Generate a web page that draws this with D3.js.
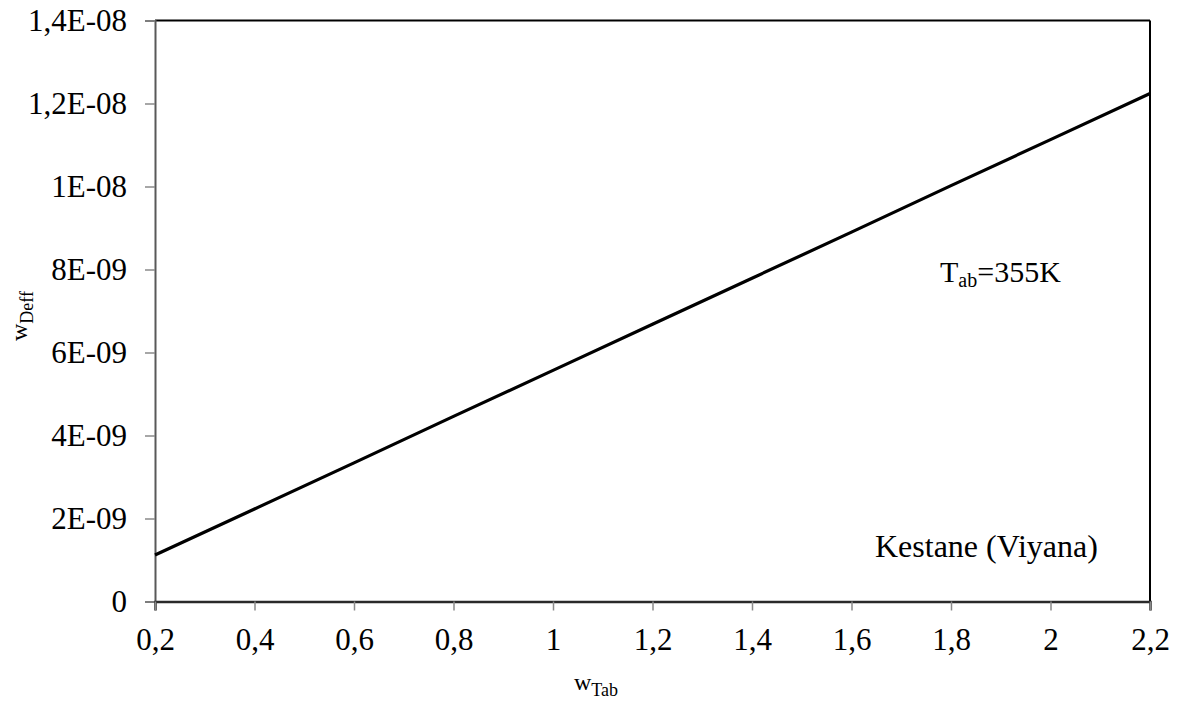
<!DOCTYPE html>
<html>
<head>
<meta charset="utf-8">
<script src="https://cdn.jsdelivr.net/npm/d3@7"></script>
<style>
  html, body { margin: 0; padding: 0; background: #fff; }
  svg text { font-family: "Liberation Serif", "Times New Roman", Tinos, "DejaVu Serif", serif !important; }
</style>
</head>
<body>
<svg id="chart" width="1190" height="705"></svg>
<script>
// w_Tab values (x) and effective diffusion coefficient w_Deff (y)
const wTab = [0.2, 0.4, 0.6, 0.8, 1.0, 1.2, 1.4, 1.6, 1.8, 2.0, 2.2];
const wDeff = [1.12e-9, 2.23e-9, 3.34e-9, 4.46e-9, 5.57e-9, 6.68e-9, 7.79e-9, 8.90e-9, 1.002e-8, 1.113e-8, 1.224e-8];

const xTicks = [0.2, 0.4, 0.6, 0.8, 1.0, 1.2, 1.4, 1.6, 1.8, 2.0, 2.2];
const xTickLabels = ["0,2", "0,4", "0,6", "0,8", "1", "1,2", "1,4", "1,6", "1,8", "2", "2,2"];
const yTicks = [0, 2e-9, 4e-9, 6e-9, 8e-9, 1e-8, 1.2e-8, 1.4e-8];
const yTickLabels = ["0", "2E-09", "4E-09", "6E-09", "8E-09", "1E-08", "1,2E-08", "1,4E-08"];

const svg = d3.select("#chart");
const plotLeft = 155, plotRight = 1150, plotTop = 20.5, plotBottom = 601.5;

const x = d3.scaleLinear().domain([0.2, 2.2]).range([plotLeft, plotRight]);
const y = d3.scaleLinear().domain([0, 1.4e-8]).range([plotBottom, plotTop]);

// frame: top and right borders
svg.append("line").attr("x1", plotLeft).attr("x2", plotRight).attr("y1", plotTop).attr("y2", plotTop)
  .attr("stroke", "#000").attr("stroke-width", 2);
svg.append("line").attr("x1", plotRight).attr("x2", plotRight).attr("y1", plotTop).attr("y2", plotBottom)
  .attr("stroke", "#000").attr("stroke-width", 2);

// y axis
const yAxis = svg.append("g").attr("transform", `translate(${plotLeft},0)`)
  .call(d3.axisLeft(y).tickValues(yTicks).tickSize(10).tickPadding(18)
    .tickFormat((d, i) => yTickLabels[i]));
yAxis.attr("font-family", null);
yAxis.select(".domain").attr("stroke", "#595959").attr("stroke-width", 2);
yAxis.selectAll(".tick line").attr("stroke", "#8a8a8a").attr("stroke-width", 1.5);
yAxis.selectAll(".tick text").attr("font-size", 31).attr("fill", "#000");

// x axis
const xAxis = svg.append("g").attr("transform", `translate(0,${plotBottom})`)
  .call(d3.axisBottom(x).tickValues(xTicks).tickSize(9).tickPadding(17)
    .tickFormat((d, i) => xTickLabels[i]));
xAxis.attr("font-family", null);
xAxis.select(".domain").attr("stroke", "#2a2a2a").attr("stroke-width", 2.5);
xAxis.selectAll(".tick line").attr("stroke", "#8a8a8a").attr("stroke-width", 1.5);
xAxis.selectAll(".tick text").attr("font-size", 31).attr("fill", "#000");

// data line
const line = d3.line().x((d, i) => x(wTab[i])).y(d => y(d));
svg.append("path").datum(wDeff)
  .attr("d", line)
  .attr("fill", "none")
  .attr("stroke", "#000")
  .attr("stroke-width", 3.2);

// annotations
const t1 = svg.append("text").attr("x", 940).attr("y", 282).attr("font-size", 30).attr("fill", "#000");
t1.append("tspan").text("T");
t1.append("tspan").attr("font-size", 20).attr("dy", 5).text("ab");
t1.append("tspan").attr("dy", -5).text("=355K");

svg.append("text").attr("x", 875).attr("y", 557).attr("font-size", 32).attr("fill", "#000")
  .text("Kestane (Viyana)");

// axis titles
const xt = svg.append("text").attr("x", 596).attr("y", 690).attr("text-anchor", "middle")
  .attr("font-size", 24).attr("fill", "#000");
xt.append("tspan").text("w");
xt.append("tspan").attr("font-size", 18).attr("dy", 6).text("Tab");

const yt = svg.append("text").attr("transform", "translate(27,316) rotate(-90)")
  .attr("text-anchor", "middle").attr("font-size", 24).attr("fill", "#000");
yt.append("tspan").text("w");
yt.append("tspan").attr("font-size", 18).attr("dy", 6).text("Deff");
</script>
</body>
</html>
